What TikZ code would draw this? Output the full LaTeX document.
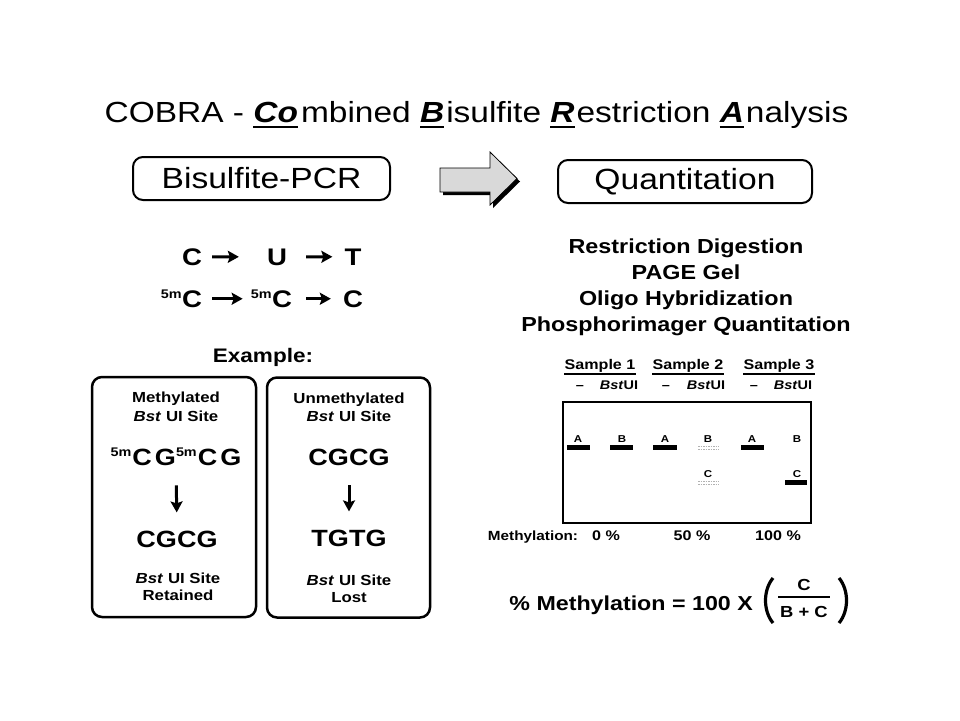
\documentclass[tikz,border=0pt]{standalone}
\usepackage{fontspec}
\setmainfont[FakeStretch=1.15]{Liberation Sans}
\usetikzlibrary{arrows.meta}
\newcommand\fsz[1]{\fontsize{#1}{#1}\selectfont}
\newsavebox\ulbox
\newcommand\ulx[1]{\sbox\ulbox{#1}\rlap{\rule[-6pt]{\wd\ulbox}{1.8pt}}\usebox\ulbox}
\newcommand\bst{\textbf{\textit{Bst}}}
\newcommand\fivem{{\fsz{12.5}\raisebox{9pt}{5m}}}
\begin{document}
\begin{tikzpicture}[x=1pt,y=-1pt,
  pill/.style={draw,line width=2pt,rounded corners=10pt,minimum height=43pt,inner sep=0pt},
  exbox/.style={draw,line width=2.5pt,rounded corners=10pt,minimum width=163pt,minimum height=240pt,inner sep=0pt},
  harrow/.style={line width=3pt,-{Stealth[length=11pt,width=12pt,inset=2pt]}},
  letter/.style={anchor=base,inner sep=0pt,font=\bfseries\fsz{24}},
  supx/.style={anchor=base east,inner sep=0pt,font=\bfseries\fsz{12.5},yshift=9pt},
  lst/.style={anchor=base,font=\bfseries\fsz{20.3},inner sep=0pt},
  btxt/.style={anchor=base,font=\bfseries\fsz{14.6},inner sep=0pt},
  big/.style={anchor=base,font=\bfseries\fsz{23.5},inner sep=0pt},
  samp/.style={anchor=base,font=\bfseries\fsz{14},inner sep=0pt},
  lane/.style={anchor=base,font=\bfseries\fsz{12.6},inner sep=0pt},
  blab/.style={anchor=base,font=\bfseries\fsz{10},inner sep=0pt},
  band/.style={fill=black},
  faint/.style={draw=gray!60,line width=1pt,dash pattern=on 1.5pt off 1pt}]
\fill[white] (0,0) rectangle (960,720);
\useasboundingbox (0,0) rectangle (960,720);

% title
\node[anchor=base,inner sep=0pt,font=\fsz{29.1}] (title) at (476.5,122)
 {COBRA - \ulx{\textbf{\textit{Co}}}\kern3pt mbined \ulx{\textbf{\textit{B}}}\kern2pt isulfite \ulx{\textbf{\textit{R}}}\kern2pt estriction \ulx{\textbf{\textit{A}}}\kern2pt nalysis};

% top boxes
\node[pill,minimum width=257pt,font=\fsz{29.2}] (pcr) at (261.5,178.5) {Bisulfite-PCR};
\node[pill,minimum width=254pt,font=\fsz{29.2}] (quant) at (685,181.5) {Quantitation};

% block arrow
\fill[black] (443,171) -- (493,171) -- (493,155) -- (520,181.5) -- (493,208) -- (493,195) -- (443,195) -- cycle;
\filldraw[fill=gray!30,draw=black,line width=0.8pt] (440,168) -- (490,168) -- (490,152) -- (517,178.5) -- (490,205) -- (490,192) -- (440,192) -- cycle;

% conversions
\node[letter] (c1) at (192,265) {C};
\node[letter] (u1) at (277,265) {U};
\node[letter] (t1) at (353,265) {T};
\node[letter] (c2) at (192,307) {C};
\node[letter] (c2b) at (282,307) {C};
\node[letter] (c3) at (353,307) {C};
\node[supx] (s1) at (c2.base west) {5m};
\node[supx] (s2) at (c2b.base west) {5m};
\draw[harrow,shorten <=10pt,shorten >=28pt] (c1.east) -- (u1.west);
\draw[harrow,shorten <=19pt,shorten >=12pt] (u1.east) -- (t1.west);
\draw[harrow,shorten <=10pt,shorten >=8pt] (c2.east) -- (s2.west |- c2.east);
\draw[harrow,shorten <=14pt,shorten >=12pt] (c2b.east) -- (c3.west);

% example
\node[anchor=base,inner sep=0pt,font=\bfseries\fsz{19.6}] (ex) at (263,362) {Example:};
\node[exbox,minimum width=164pt] (lbox) at (174,497) {};
\node[exbox] (rbox) at (348.5,497.5) {};

\node[btxt] (lt1) at (176,402) {Methylated};
\node[btxt] (lt2) at (176,421) {\bst{} UI Site};
\node[big] (lt3) at (176,465) {\fivem\kern1pt C\kern3pt G\fivem\kern1pt C\kern3pt G};
\node[big] (lt4) at (177,547) {CGCG};
\node[btxt] (lt5) at (178,583) {\bst{} UI Site};
\node[btxt] (lt6) at (178,600) {Retained};
\draw[harrow,shorten <=20pt,shorten >=18pt] (lt3.south) -- (lt4.north);

\node[btxt] (rt1) at (349,403) {Unmethylated};
\node[btxt] (rt2) at (349,421) {\bst{} UI Site};
\node[big] (rt3) at (349,465) {CGCG};
\node[big] (rt4) at (349,546) {TGTG};
\node[btxt] (rt5) at (349,585) {\bst{} UI Site};
\node[btxt] (rt6) at (349,602) {Lost};
\draw[harrow,shorten <=20pt,shorten >=18pt] (rt3.south) -- (rt4.north);

% right list
\node[lst] (l1) at (686,253.5) {Restriction Digestion};
\node[lst] (l2) at (686,279.5) {PAGE Gel};
\node[lst] (l3) at (686,305.5) {Oligo Hybridization};
\node[lst] (l4) at (686,331.5) {Phosphorimager Quantitation};

% gel
\node[samp] (sa1) at (600,369) {Sample 1};
\node[samp] (sa2) at (688,369) {Sample 2};
\node[samp] (sa3) at (779,369) {Sample 3};
\foreach \s in {sa1,sa2,sa3}{\draw[line width=1.6pt] ([yshift=-5pt]\s.base west) -- ([yshift=-5pt]\s.base east);}
\node[lane] (m1) at (580,389) {--};
\node[lane] (b1) at (619,389) {\textit{Bst}UI};
\node[lane] (m2) at (666,389) {--};
\node[lane] (b2) at (706,389) {\textit{Bst}UI};
\node[lane] (m3) at (754,389) {--};
\node[lane] (b3) at (793,389) {\textit{Bst}UI};
\node[draw,line width=2pt,minimum width=248pt,minimum height=121pt,inner sep=0pt] (gel) at (687,462.5) {};

\node[blab] (ga1) at (578,442) {A};
\node[blab] (gb1) at (622,442) {B};
\node[blab] (ga2) at (665,442) {A};
\node[blab] (gb2) at (708,442) {B};
\node[blab] (ga3) at (752,442) {A};
\node[blab] (gb3) at (797,442) {B};
\node[blab] (gc2) at (708,477) {C};
\node[blab] (gc3) at (797,477) {C};
\fill[band] (567,444.5) rectangle (590,449.5);
\fill[band] (610,444.5) rectangle (633,449.5);
\fill[band] (653,444.5) rectangle (677,449.5);
\fill[band] (741,444.5) rectangle (764,449.5);
\fill[band] (785,480) rectangle (807,485);
\draw[faint] (698,446) -- (719,446);
\draw[faint] (698,449) -- (719,449);
\draw[faint] (698,481) -- (719,481);
\draw[faint] (698,484) -- (719,484);

\node[anchor=base,inner sep=0pt,font=\bfseries\fsz{13.3}] (meth) at (533,540) {Methylation:};
\node[samp] (p0) at (606,540) {0 \%};
\node[samp] (p50) at (692,540) {50 \%};
\node[samp] (p100) at (778,540) {100 \%};

% formula
\node[anchor=base east,inner sep=0pt,font=\bfseries\fsz{20.2}] (form) at (753,610) {\% Methylation = 100 X};
\node[anchor=base,inner sep=0pt,font=\bfseries\fsz{16}] (fc) at (804,590) {C};
\node[anchor=base,inner sep=0pt,font=\bfseries\fsz{16}] (fbc) at (804,617) {B + C};
\draw[line width=2pt] (778,597) -- (830,597);
\draw[line width=3.2pt] (773,578) .. controls (763,590) and (763,611) .. (773,623);
\draw[line width=3.2pt] (839,578) .. controls (849,590) and (849,611) .. (839,623);
\end{tikzpicture}
\end{document}
